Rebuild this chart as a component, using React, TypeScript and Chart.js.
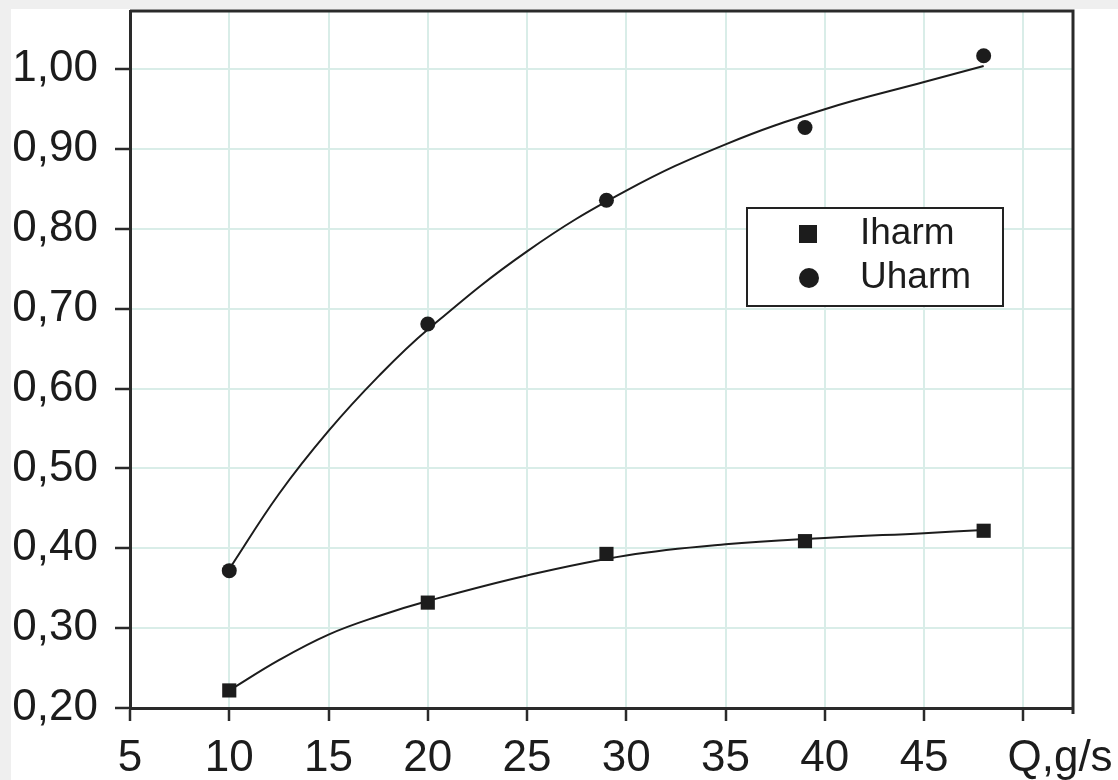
import React, { useEffect, useRef } from 'react';
import { Chart, registerables } from 'chart.js';

Chart.register(...registerables);

// measured points
const X_POINTS = [10, 20, 29, 39, 48];
const IHARM = [0.222, 0.332, 0.393, 0.409, 0.422];
const UHARM = [0.372, 0.681, 0.836, 0.927, 1.017];

// fitted curves
const FIT_X = [10, 12.5, 15, 17.5, 20, 25, 30, 35, 40, 45, 48];
const IHARM_FIT = [0.222, 0.26, 0.292, 0.315, 0.334, 0.366, 0.391, 0.405, 0.413, 0.419, 0.423];
const UHARM_FIT = [0.374, 0.468, 0.547, 0.615, 0.674, 0.772, 0.848, 0.906, 0.95, 0.984, 1.004];

const SERIES_NAMES = ['Iharm', 'Uharm'];

const X_TICKS = [5, 10, 15, 20, 25, 30, 35, 40, 45, 50];
const X_TICK_LABELS = ['5', '10', '15', '20', '25', '30', '35', '40', '45', 'Q,g/s'];
const Y_TICKS = [0.2, 0.3, 0.4, 0.5, 0.6, 0.7, 0.8, 0.9, 1.0];
const Y_TICK_LABELS = ['0,20', '0,30', '0,40', '0,50', '0,60', '0,70', '0,80', '0,90', '1,00'];

const FONT = "'Liberation Sans', Arial, sans-serif";
const INK = '#1c1c1c';
const GRID = '#d9ede8';

const framePlugin = {
  id: 'frame',
  afterDraw(chart: any) {
    const { ctx, chartArea } = chart;
    ctx.save();
    ctx.strokeStyle = '#2a2a2a';
    ctx.lineWidth = 3;
    ctx.beginPath();
    ctx.moveTo(chartArea.left, chartArea.top);
    ctx.lineTo(chartArea.right, chartArea.top);
    ctx.lineTo(chartArea.right, chartArea.bottom + 6);
    ctx.stroke();
    ctx.restore();
  },
};

const legendPlugin = {
  id: 'boxLegend',
  afterDraw(chart: any) {
    const { ctx, chartArea } = chart;
    const x = chartArea.left + 617;
    const y = chartArea.top + 197;
    const w = 256;
    const h = 98;
    ctx.save();
    ctx.fillStyle = '#ffffff';
    ctx.fillRect(x, y, w, h);
    ctx.strokeStyle = '#222';
    ctx.lineWidth = 2;
    ctx.strokeRect(x, y, w, h);
    const rows = [y + 26, y + 70];
    ctx.fillStyle = INK;
    ctx.fillRect(x + 52, rows[0] - 9, 18, 18);
    ctx.beginPath();
    ctx.arc(x + 62, rows[1], 10, 0, Math.PI * 2);
    ctx.fill();
    ctx.font = `37px ${FONT}`;
    ctx.textBaseline = 'middle';
    ctx.textAlign = 'left';
    ctx.fillText(SERIES_NAMES[0], x + 113, rows[0]);
    ctx.fillText(SERIES_NAMES[1], x + 113, rows[1]);
    ctx.restore();
  },
};

export default function App() {
  const ref = useRef<HTMLCanvasElement | null>(null);

  useEffect(() => {
    if (!ref.current) return;
    const chart = new Chart(ref.current, {
      type: 'scatter',
      data: {
        datasets: [
          {
            label: SERIES_NAMES[0],
            data: X_POINTS.map((x, i) => ({ x, y: IHARM[i] })),
            showLine: false,
            pointStyle: 'rect',
            pointRadius: 10,
            backgroundColor: INK,
            borderColor: INK,
            borderWidth: 0,
            order: 0,
          },
          {
            label: SERIES_NAMES[1],
            data: X_POINTS.map((x, i) => ({ x, y: UHARM[i] })),
            showLine: false,
            pointStyle: 'circle',
            pointRadius: 7.5,
            backgroundColor: INK,
            borderColor: INK,
            borderWidth: 0,
            order: 0,
          },
          {
            label: SERIES_NAMES[0] + ' fit',
            data: FIT_X.map((x, i) => ({ x, y: IHARM_FIT[i] })),
            showLine: true,
            pointRadius: 0,
            borderColor: INK,
            borderWidth: 2,
            tension: 0.4,
            order: 1,
          },
          {
            label: SERIES_NAMES[1] + ' fit',
            data: FIT_X.map((x, i) => ({ x, y: UHARM_FIT[i] })),
            showLine: true,
            pointRadius: 0,
            borderColor: INK,
            borderWidth: 2,
            tension: 0.4,
            order: 1,
          },
        ],
      },
      options: {
        animation: false,
        responsive: false,
        events: [],
        layout: { autoPadding: false, padding: { top: 2, left: 0, right: 45, bottom: 0 } },
        plugins: { legend: { display: false }, tooltip: { enabled: false } },
        scales: {
          x: {
            type: 'linear',
            min: 5,
            max: 52.5,
            afterBuildTicks: (s: any) => {
              s.ticks = X_TICKS.map((v) => ({ value: v }));
            },
            afterFit: (s: any) => {
              s.height = 72;
              s.paddingLeft = 0;
              s.paddingRight = 0;
            },
            ticks: {
              autoSkip: false,
              maxRotation: 0,
              padding: 11,
              color: INK,
              font: { family: FONT, size: 44 },
              callback: (_v: any, i: number) =>
                i === X_TICK_LABELS.length - 1 ? '      ' + X_TICK_LABELS[i] : X_TICK_LABELS[i],
            },
            grid: {
              color: GRID,
              lineWidth: 2,
              tickColor: '#2a2a2a',
              tickWidth: 2.5,
              tickLength: 13,
            },
            border: { color: '#2a2a2a', width: 3 },
          },
          y: {
            type: 'linear',
            min: 0.2,
            max: 1.073,
            afterBuildTicks: (s: any) => {
              s.ticks = Y_TICKS.map((v) => ({ value: v }));
            },
            afterFit: (s: any) => {
              s.width = 119;
              s.paddingTop = 0;
              s.paddingBottom = 0;
            },
            ticks: {
              padding: 17,
              color: INK,
              font: { family: FONT, size: 44 },
              callback: (_v: any, i: number) => Y_TICK_LABELS[i],
            },
            grid: {
              color: GRID,
              lineWidth: 2,
              tickColor: '#2a2a2a',
              tickWidth: 2.5,
              tickLength: 15,
            },
            border: { color: '#2a2a2a', width: 3 },
          },
        },
      },
      plugins: [framePlugin, legendPlugin],
    } as any);
    return () => chart.destroy();
  }, []);

  return (
    <div
      style={{
        position: 'absolute',
        left: 0,
        top: 0,
        width: 1118,
        height: 780,
        background: '#efefef',
        overflow: 'hidden',
      }}
    >
      <canvas
        ref={ref}
        width={1107}
        height={771}
        style={{ position: 'absolute', left: 11, top: 9, width: 1107, height: 771, background: '#ffffff' }}
      />
    </div>
  );
}
